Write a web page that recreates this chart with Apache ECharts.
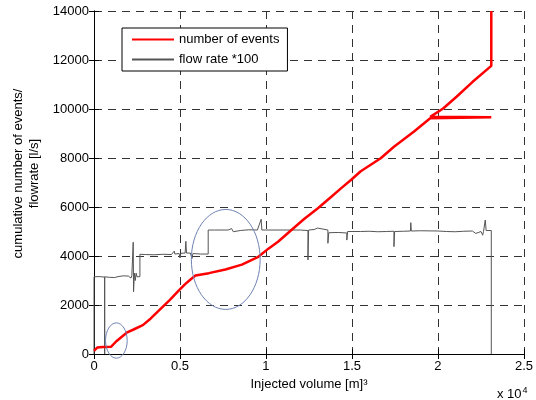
<!DOCTYPE html>
<html>
<head>
<meta charset="utf-8">
<script src="https://cdn.jsdelivr.net/npm/echarts@6/dist/echarts.min.js"></script>
<style>
  html, body { margin: 0; padding: 0; background: #fff; }
  #main { width: 536px; height: 400px; }
</style>
</head>
<body>
<div id="main"></div>
<script>
// injected volume in units of 10^4 m3
var xTicks = [0, 0.5, 1, 1.5, 2, 2.5];
var yTicks = [0, 2000, 4000, 6000, 8000, 10000, 12000, 14000];

// number of events (red)
var eventsX = [0, 0.02, 0.05, 0.1, 0.13, 0.19, 0.23, 0.284, 0.33, 0.39, 0.44, 0.495, 0.53, 0.563, 0.59,
  0.668, 0.764, 0.86, 0.952, 0.97, 1.014, 1.07, 1.148, 1.22, 1.3, 1.38, 1.436, 1.494, 1.551, 1.667,
  1.744, 1.859, 1.955, 2.31, 1.955, 2.03, 2.108, 2.2, 2.31, 2.31];
var eventsY = [130, 270, 290, 300, 520, 870, 1000, 1180, 1450, 1860, 2200, 2610, 2850, 3050, 3200,
  3300, 3450, 3650, 3950, 4050, 4300, 4580, 5060, 5500, 5940, 6420, 6760, 7100, 7460, 7990,
  8460, 9070, 9620, 9660, 9680, 10020, 10500, 11100, 11760, 14000];

// flow rate *100 (grey)
var flowX = [0, 0, 0.03, 0.062, 0.062, 0.062, 0.09, 0.1, 0.12, 0.14, 0.17, 0.2, 0.21, 0.215, 0.22,
  0.228, 0.23, 0.235, 0.24, 0.245, 0.25, 0.255, 0.267, 0.267, 0.3, 0.35, 0.4, 0.45, 0.467, 0.47,
  0.495, 0.5, 0.505, 0.53, 0.534, 0.538, 0.56, 0.57, 0.575, 0.62, 0.664, 0.664, 0.7, 0.78, 0.8,
  0.81, 0.82, 0.85, 0.9, 0.95, 0.972, 0.976, 1.0, 1.1, 1.2, 1.244, 1.244, 1.248, 1.28, 1.3, 1.31,
  1.36, 1.36, 1.365, 1.42, 1.47, 1.47, 1.475, 1.55, 1.6, 1.65, 1.7, 1.744, 1.744, 1.748, 1.8,
  1.84, 1.842, 1.845, 1.9, 2.0, 2.05, 2.1, 2.15, 2.2, 2.22, 2.23, 2.25, 2.26, 2.265, 2.275, 2.28,
  2.31, 2.31];
var flowY = [0, 3150, 3160, 3140, 0, 3150, 3130, 3170, 3120, 3160, 3190, 3180, 3240, 3100, 3200,
  4560, 2540, 3300, 3000, 3300, 3150, 3200, 3160, 4070, 4060, 4050, 4070, 4060, 4200, 4080,
  4100, 3920, 4110, 4120, 4600, 4120, 4120, 3900, 4100, 4080, 4080, 5060, 5060, 5060, 5120,
  4990, 5060, 5040, 5070, 5060, 5500, 5060, 5060, 5060, 5060, 5040, 3840, 5060, 5080, 5140, 5060,
  5060, 4520, 4950, 4960, 4940, 4650, 5000, 5000, 5010, 4990, 5000, 5010, 4380, 5000, 5010,
  5020, 5360, 5020, 5030, 5020, 5000, 4990, 5010, 5020, 4920, 4980, 5000, 4850, 5010, 5470, 5040,
  5040, 0];

// annotation ellipses: centre and radii in data units
var ellipses = [
  { x: 0.13, y: 550, rx: 0.063, ry: 720 },
  { x: 0.766, y: 3860, rx: 0.2, ry: 2040 }
];

function pairs(xs, ys) {
  var out = [];
  for (var i = 0; i < xs.length; i++) out.push([xs[i], ys[i]]);
  return out;
}

var font = 'Liberation Sans, Arial, sans-serif';
var myChart = echarts.init(document.getElementById('main'));

var axisCommon = {
  type: 'value',
  axisLine: { show: true, lineStyle: { color: '#000', width: 1 } },
  axisTick: { show: true, inside: true, length: 5, lineStyle: { color: '#000' } }
};

myChart.setOption({
  animation: false,
  backgroundColor: '#fff',
  textStyle: { fontFamily: font },
  grid: { left: 94, right: 8, top: 11, bottom: 46 },
  legend: {
    orient: 'vertical',
    left: 122,
    top: 28,
    padding: [5, 8, 5, 9],
    itemGap: 7,
    itemWidth: 42,
    itemHeight: 14,
    borderColor: '#000',
    borderWidth: 1,
    backgroundColor: '#fff',
    itemStyle: { opacity: 0 }, // hide the symbol, keep the line
    textStyle: { fontSize: 13, color: '#000', fontFamily: font },
    data: ['number of events', 'flow rate *100']
  },
  xAxis: [
    Object.assign({}, axisCommon, {
      min: 0, max: 2.5, interval: 0.5,
      position: 'bottom',
      name: 'Injected volume [m]\u00b3',
      nameLocation: 'middle',
      nameGap: 23,
      nameTextStyle: { fontSize: 13, color: '#000' },
      axisLabel: { fontSize: 13, color: '#000', margin: 6 },
      splitLine: { show: true, lineStyle: { color: '#333', type: [8, 6], width: 1 } }
    }),
    Object.assign({}, axisCommon, {
      min: 0, max: 2.5, interval: 0.5,
      position: 'top',
      axisLabel: { show: false },
      splitLine: { show: false }
    })
  ],
  yAxis: [
    Object.assign({}, axisCommon, {
      min: 0, max: 14000, interval: 2000,
      position: 'left',
      name: 'cumulative number of events/\nflowrate [l/s]',
      nameLocation: 'middle',
      nameRotate: 90,
      nameGap: 47,
      nameTextStyle: { fontSize: 13, color: '#000', lineHeight: 16, padding: [0, 0, 0, 18] },
      axisLabel: { fontSize: 13, color: '#000', margin: 5, formatter: function (v) { return String(v); } },
      splitLine: { show: true, lineStyle: { color: '#333', type: [8, 6], width: 1 } }
    }),
    Object.assign({}, axisCommon, {
      min: 0, max: 14000, interval: 2000,
      position: 'right',
      axisLabel: { show: false },
      splitLine: { show: false }
    })
  ],
  series: [
    {
      name: 'number of events',
      type: 'line',
      data: pairs(eventsX, eventsY),
      symbol: 'none',
      showSymbol: false,
      z: 3,
      lineStyle: { color: '#ff0000', width: 2.5 },
      itemStyle: { color: '#ff0000' }
    },
    {
      name: 'flow rate *100',
      type: 'line',
      data: pairs(flowX, flowY),
      symbol: 'none',
      showSymbol: false,
      z: 2,
      lineStyle: { color: '#555', width: 1 },
      itemStyle: { color: '#555' }
    }
  ]
});

// ellipses placed through the chart's own scales
var shapes = ellipses.map(function (e) {
  var c = myChart.convertToPixel({ gridIndex: 0 }, [e.x, e.y]);
  var edge = myChart.convertToPixel({ gridIndex: 0 }, [e.x + e.rx, e.y + e.ry]);
  return {
    type: 'ellipse',
    z: 10,
    shape: { cx: c[0], cy: c[1], rx: Math.abs(edge[0] - c[0]), ry: Math.abs(edge[1] - c[1]) },
    style: { fill: null, stroke: '#6f82b3', lineWidth: 1 }
  };
});

shapes.push({
  type: 'text',
  left: 497,
  top: 386,
  z: 10,
  style: {
    text: '{a|x 10}{b|4}',
    rich: {
      a: { fontSize: 13, fill: '#000', fontFamily: font },
      b: { fontSize: 9, fill: '#000', fontFamily: font, verticalAlign: 'top', padding: [0, 0, 8, 1] }
    }
  }
});

myChart.setOption({ graphic: shapes });
</script>
</body>
</html>
